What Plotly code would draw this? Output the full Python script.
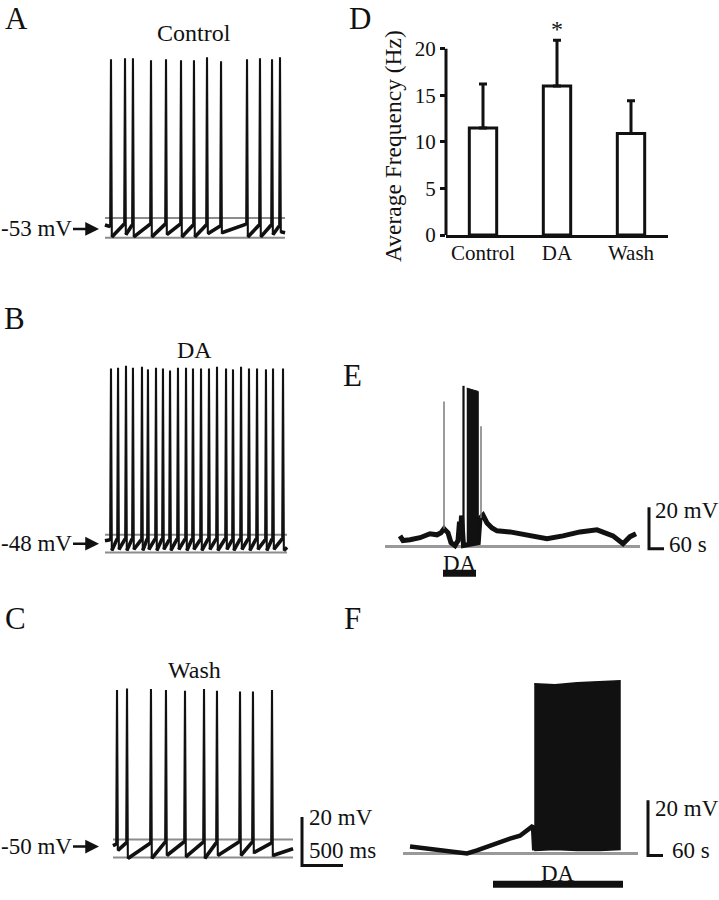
import plotly.graph_objects as go

# ---------------- data ----------------
# Panel A (Control) : spike times (ms), peaks / pre-spike / AHP trough (mV)
A_spike_t = [73, 244, 341, 561, 744, 927, 1085, 1244, 1415, 1732, 1890, 2037, 2134]
A_peak = [17.2, 17.6, 17.6, 16.8, 17.2, 16.8, 16.8, 18.0, 16.4, 17.2, 17.6, 17.2, 18.0]
A_pre = [-52.0, -51.0, -51.4, -51.0, -51.0, -51.0, -51.4, -51.4, -51.8, -51.0, -51.4, -51.4, -51.8]
A_ahp = [-56.3, -55.4, -56.3, -56.3, -55.4, -56.3, -56.3, -55.0, -54.6, -56.3, -56.3, -55.4, -54.2]
A_ends = [(0, -51.4), (2195, -54.6)]
A_gray = [-48.5, -56.7]

# Panel B (DA)
B_spike_t = [73, 159, 256, 341, 451, 524, 622, 707, 793, 890, 988, 1073, 1171, 1268,
             1366, 1476, 1561, 1659, 1756, 1854, 1963, 2049, 2171]
B_peak = [24.9, 25.2, 26.0, 25.2, 25.6, 24.5, 25.2, 24.9, 24.0, 25.2, 25.2, 24.9,
          24.9, 24.9, 25.6, 24.9, 24.5, 25.6, 24.9, 24.9, 24.5, 24.9, 24.9]
B_pre = [-46.0, -45.6, -45.6, -45.6, -46.0, -45.6, -45.6, -45.6, -46.0, -45.6, -45.6, -45.6,
         -46.0, -45.6, -45.6, -45.6, -46.0, -45.6, -45.6, -45.6, -46.0, -45.6, -45.6]
B_ahp = [-50.4, -50.0, -50.4, -50.0, -50.4, -50.0, -50.4, -50.0, -50.4, -50.0, -50.4, -50.0,
         -50.4, -50.0, -50.4, -50.0, -50.4, -50.0, -50.4, -50.0, -50.4, -50.0, -50.4]
B_ends = [(0, -46.4), (2220, -49.2)]
B_gray = [-43.9, -51.3]

# Panel C (Wash)
C_spike_t = [49, 171, 463, 646, 878, 1110, 1268, 1549, 1707, 1939]
C_peak = [14.8, 15.4, 15.2, 14.8, 14.5, 15.2, 14.5, 14.1, 14.1, 14.8]
C_pre = [-49.0, -48.5, -48.6, -48.2, -48.0, -48.2, -48.5, -48.0, -48.2, -48.6]
C_ahp = [-51.6, -54.9, -54.9, -53.7, -54.3, -54.9, -53.7, -53.7, -52.5, -53.7]
C_ends = [(0, -49.6), (2195, -50.9)]
C_gray = [-47.1, -54.5]

rest_labels = ["-53 mV", "-48 mV", "-50 mV"]
titles_abc = ["Control", "DA", "Wash"]

# Panel D (bar chart)
categories = ["Control", "DA", "Wash"]
mean_freq = [11.5, 16.0, 10.9]
sem_freq = [4.7, 4.9, 3.5]
y_ticks = [0, 5, 10, 15, 20]

# Panel E (long recording, s / mV from baseline)
E_t = [0, 12, 40, 80, 120, 148, 164, 176, 192, 204, 220, 232, 238, 242, 246, 250, 254,
       313, 320, 332, 348, 368, 388, 440, 520, 588, 652, 720, 788, 820, 852, 892, 920, 944]
E_v = [5.2, 2.9, 3.3, 4.3, 6.2, 5.7, 6.7, 8.6, 6.7, 1.9, 0.5, 2.9, 12.0, 4.0, 15.0, 3.0, 0.5,
       1.9, 13.8, 15.2, 11.4, 9.0, 7.6, 7.1, 5.2, 3.8, 5.2, 7.1, 8.1, 6.7, 5.2, 1.4, 4.8, 6.2]
E_burst_t = [267, 313]
E_burst_top = [76.5, 74.9]
E_burst_bottom = [0.5, 1.9]
E_black_spike = dict(t=[254], base=[0.5], peak=[77.6])
E_gray_spike = dict(t=[176, 324], base=[8.6, 13.8], peak=[70.0, 58.1])
E_gray_range = [-60, 960]
E_DA = [172, 304]

# Panel F
F_t = [0, 40, 108, 172, 228, 268, 308, 348, 400, 440, 468, 492, 497]
F_v = [2.5, 2.1, 1.4, 0.7, 0.0, 1.1, 2.5, 3.6, 5.4, 6.4, 8.2, 10.0, 1.1]
F_block_t = [497, 580, 668, 760, 840]
F_block_top = [61.4, 61.1, 61.8, 62.1, 62.5]
F_block_bottom = [1.1, 1.4, 1.1, 1.1, 1.4]
F_gray_range = [-28, 912]
F_DA = [332, 852]

SCALE_MV = 20
SCALE_MS = 500
SCALE_S = 60

# ---------------- layout helpers ----------------
W, H = 719, 900
SERIF = "Liberation Serif"
BLACK = "#111111"
GRAY = "#8c8c8c"


def hdom(p0, p1):
    return [p0 / W, p1 / W]


def vdom(top, bot):
    return [1 - bot / H, 1 - top / H]


def hrange(p0, p1, ref_px, ref_val, ppu):
    return [ref_val + (p0 - ref_px) / ppu, ref_val + (p1 - ref_px) / ppu]


def vrange(top, bot, ref_px, ref_val, ppu):
    return [ref_val - (bot - ref_px) / ppu, ref_val + (ref_px - top) / ppu]


def px(x, y):
    return x / W, 1 - y / H


def build_wave(ts, peaks, pres, ahps, ends):
    xs = [ends[0][0]]
    ys = [ends[0][1]]
    for t, pk, pr, ah in zip(ts, peaks, pres, ahps):
        xs += [t - 10, t, t + 10]
        ys += [pr, pk, ah]
    xs.append(ends[1][0])
    ys.append(ends[1][1])
    return xs, ys


def build_band(ts, pres, ahps, ends):
    xs = [ends[0][0]]
    ys = [ends[0][1]]
    for t, pr, ah in zip(ts, pres, ahps):
        xs += [t - 10, None, t + 10]
        ys += [pr, None, ah]
    xs.append(ends[1][0])
    ys.append(ends[1][1])
    return xs, ys


fig = go.Figure()

# ---------------- panels A, B, C ----------------
abc = [
    ("", A_spike_t, A_peak, A_pre, A_ahp, A_ends, A_gray),
    ("2", B_spike_t, B_peak, B_pre, B_ahp, B_ends, B_gray),
    ("3", C_spike_t, C_peak, C_pre, C_ahp, C_ends, C_gray),
]
for sfx, ts, pk, pr, ah, ends, gray in abc:
    xa, ya = "x" + sfx, "y" + sfx
    t0, t1 = ends[0][0], ends[1][0]
    for g in gray:
        fig.add_trace(go.Scatter(x=[t0, t1], y=[g, g], mode="lines",
                                 line=dict(color=GRAY, width=2), xaxis=xa, yaxis=ya,
                                 hoverinfo="skip"))
    xs, ys = build_wave(ts, pk, pr, ah, ends)
    fig.add_trace(go.Scatter(x=xs, y=ys, mode="lines", line=dict(color=BLACK, width=2.1),
                             xaxis=xa, yaxis=ya))
    xs, ys = build_band(ts, pr, ah, ends)
    fig.add_trace(go.Scatter(x=xs, y=ys, mode="lines", line=dict(color=BLACK, width=3.6),
                             xaxis=xa, yaxis=ya))

# scale bar C
sc_t, sc_v = 2305, -57.8
fig.add_trace(go.Scatter(x=[sc_t, sc_t, sc_t + SCALE_MS], y=[sc_v + SCALE_MV, sc_v, sc_v],
                         mode="lines", line=dict(color=BLACK, width=3), xaxis="x3", yaxis="y3"))

# ---------------- panel D ----------------
D_TOP, D_BOT, D_PPU = 49.3, 238.3, 9.45   # px of y=20, y=0 and px per Hz
D_YMAX = 23.0
fig.add_trace(go.Bar(x=categories, y=mean_freq, width=0.37,
                     marker=dict(color="white", line=dict(color=BLACK, width=3)),
                     error_y=dict(type="data", array=sem_freq, arrayminus=[0] * len(sem_freq),
                                  symmetric=False, color=BLACK, thickness=3, width=4),
                     cliponaxis=False, xaxis="x4", yaxis="y4"))

# ---------------- panel E ----------------
fig.add_trace(go.Scatter(x=E_gray_range, y=[0, 0], mode="lines", line=dict(color="#999999", width=3),
                         xaxis="x5", yaxis="y5"))
fig.add_trace(go.Scatter(x=E_t, y=E_v, mode="lines", line=dict(color=BLACK, width=5),
                         xaxis="x5", yaxis="y5"))
fig.add_trace(go.Scatter(x=E_burst_t + E_burst_t[::-1], y=E_burst_top + E_burst_bottom[::-1],
                         fill="toself", fillcolor=BLACK, mode="lines", line=dict(color=BLACK, width=1),
                         xaxis="x5", yaxis="y5"))
xs, ys = [], []
for t, b, p in zip(E_black_spike["t"], E_black_spike["base"], E_black_spike["peak"]):
    xs += [t, t, None]
    ys += [b, p, None]
fig.add_trace(go.Scatter(x=xs, y=ys, mode="lines", line=dict(color=BLACK, width=2.2),
                         xaxis="x5", yaxis="y5"))
xs, ys = [], []
for t, b, p in zip(E_gray_spike["t"], E_gray_spike["base"], E_gray_spike["peak"]):
    xs += [t, t, None]
    ys += [b, p, None]
fig.add_trace(go.Scatter(x=xs, y=ys, mode="lines", line=dict(color="#7a7a7a", width=1.5),
                         xaxis="x5", yaxis="y5"))
e_da_v = -12.9
fig.add_trace(go.Scatter(x=E_DA, y=[e_da_v, e_da_v], mode="lines", line=dict(color=BLACK, width=7),
                         xaxis="x5", yaxis="y5"))
se_t, se_v = 996, -1.0
fig.add_trace(go.Scatter(x=[se_t, se_t, se_t + SCALE_S], y=[se_v + SCALE_MV, se_v, se_v],
                         mode="lines", line=dict(color=BLACK, width=3), xaxis="x5", yaxis="y5"))

# ---------------- panel F ----------------
fig.add_trace(go.Scatter(x=F_gray_range, y=[0, 0], mode="lines", line=dict(color="#999999", width=3),
                         xaxis="x6", yaxis="y6"))
fig.add_trace(go.Scatter(x=F_t, y=F_v, mode="lines", line=dict(color=BLACK, width=4.5),
                         xaxis="x6", yaxis="y6"))
fig.add_trace(go.Scatter(x=F_block_t + F_block_t[::-1], y=F_block_top + F_block_bottom[::-1],
                         fill="toself", fillcolor=BLACK, mode="lines", line=dict(color=BLACK, width=1.5),
                         xaxis="x6", yaxis="y6"))
f_da_v = -11.1
fig.add_trace(go.Scatter(x=F_DA, y=[f_da_v, f_da_v], mode="lines", line=dict(color=BLACK, width=7),
                         xaxis="x6", yaxis="y6"))
sf_t, sf_v = 952, -0.7
fig.add_trace(go.Scatter(x=[sf_t, sf_t, sf_t + SCALE_S], y=[sf_v + SCALE_MV, sf_v, sf_v],
                         mode="lines", line=dict(color=BLACK, width=3), xaxis="x6", yaxis="y6"))

# ---------------- axes ----------------
hidden = dict(visible=False, showgrid=False, zeroline=False)
ms_ppu, mv_ppu = 0.082, 2.45
layout_axes = dict(
    xaxis=dict(domain=hdom(95, 360), range=hrange(95, 360, 105, 0, ms_ppu), anchor="y", **hidden),
    yaxis=dict(domain=vdom(40, 262), range=vrange(40, 262, 232, -53, mv_ppu), anchor="x", **hidden),
    xaxis2=dict(domain=hdom(95, 360), range=hrange(95, 360, 105, 0, ms_ppu), anchor="y2", **hidden),
    yaxis2=dict(domain=vdom(360, 582), range=vrange(360, 582, 552, -48, mv_ppu), anchor="x2", **hidden),
    xaxis3=dict(domain=hdom(95, 360), range=hrange(95, 360, 113, 0, ms_ppu), anchor="y3", **hidden),
    yaxis3=dict(domain=vdom(685, 890), range=vrange(685, 890, 858, -50, mv_ppu), anchor="x3", **hidden),
    xaxis4=dict(domain=hdom(446, 668), range=[-0.5, 2.5], anchor="y4", showline=True, linewidth=3,
                linecolor=BLACK, ticks="", showgrid=False, zeroline=False, ticklabelstandoff=-3,
                tickfont=dict(family=SERIF, size=21, color=BLACK)),
    yaxis4=dict(domain=vdom(D_BOT - D_YMAX * D_PPU, D_BOT), range=[0, D_YMAX], anchor="x4",
                showline=False, ticks="outside", ticklen=5, tickwidth=2.5, tickcolor=BLACK,
                tickvals=y_ticks, showgrid=False, zeroline=False,
                tickfont=dict(family=SERIF, size=21, color=BLACK)),
    xaxis5=dict(domain=hdom(380, 715), range=hrange(380, 715, 400, 0, 0.25), anchor="y5", **hidden),
    yaxis5=dict(domain=vdom(370, 600), range=vrange(370, 600, 554, 0, 2.1), anchor="x5", **hidden),
    xaxis6=dict(domain=hdom(390, 715), range=hrange(390, 715, 410, 0, 0.25), anchor="y6", **hidden),
    yaxis6=dict(domain=vdom(660, 900), range=vrange(660, 900, 865, 0, 2.8), anchor="x6", **hidden),
)

shapes = [dict(type="line", xref="x4 domain", yref="y4", x0=0, x1=0, y0=0, y1=max(y_ticks),
               line=dict(color=BLACK, width=3))]

# ---------------- annotations ----------------
ann = []


def text_px(x, y, s, size, xanchor="center", yanchor="middle", angle=0):
    xp, yp = px(x, y)
    ann.append(dict(x=xp, y=yp, xref="paper", yref="paper", text=s, showarrow=False,
                    xanchor=xanchor, yanchor=yanchor, textangle=angle, borderpad=0,
                    font=dict(family=SERIF, size=size, color=BLACK)))


# panel letters: A and D sit at the top edge, so they are anchored by their top
text_px(16, 0, "A", 31, yanchor="top")
text_px(360, 0, "D", 31, yanchor="top")
for lab, (x, y) in zip("BCEF", [(14, 323), (15, 627), (352, 381), (352, 627)]):
    text_px(x, y, lab, 31)

for t, y in zip(titles_abc, [33, 355, 679]):
    text_px(194, y, t, 24)

for lab, y in zip(rest_labels, [232, 551, 858]):
    xp, yp = px(99, y)
    ann.append(dict(x=xp, y=yp, xref="paper", yref="paper", text=lab, showarrow=True,
                    ax=-63, ay=0, arrowhead=2, arrowsize=1.1, arrowwidth=2.5, arrowcolor=BLACK,
                    standoff=0, font=dict(family=SERIF, size=23, color=BLACK)))

# D
text_px(393, 148, "Average Frequency (Hz)", 23.5, angle=-90)
ann.append(dict(x=categories[1], y=mean_freq[1] + sem_freq[1], xref="x4", yref="y4", text="*",
                showarrow=False, yanchor="bottom", yshift=-4,
                font=dict(family=SERIF, size=24, color=BLACK)))


# scale-bar labels
def data_text(xr, yr, x, y, s, xanchor="left"):
    ann.append(dict(x=x, y=y, xref=xr, yref=yr, text=s, showarrow=False, xanchor=xanchor,
                    yanchor="middle", font=dict(family=SERIF, size=23, color=BLACK)))


data_text("x3", "y3", sc_t + 60, sc_v + SCALE_MV, f"{SCALE_MV} mV")
data_text("x3", "y3", sc_t + 60, sc_v + 6, f"{SCALE_MS} ms")
data_text("x5", "y5", se_t + 16, se_v + 18.6, f"{SCALE_MV} mV")
data_text("x5", "y5", se_t + SCALE_S + 12, se_v + 2, f"{SCALE_S} s")
data_text("x6", "y6", sf_t + 20, sf_v + 16.8, f"{SCALE_MV} mV")
data_text("x6", "y6", sf_t + SCALE_S + 28, sf_v + 1.8, f"{SCALE_S} s")
data_text("x5", "y5", sum(E_DA) / 2, e_da_v + 4.8, "DA", xanchor="center")
data_text("x6", "y6", sum(F_DA) / 2, f_da_v + 3.9, "DA", xanchor="center")

fig.update_layout(
    width=W, height=H, margin=dict(l=0, r=0, t=0, b=0),
    paper_bgcolor="white", plot_bgcolor="rgba(0,0,0,0)", showlegend=False,
    annotations=ann, shapes=shapes, **layout_axes,
)

fig.write_html("out.html", config={"displayModeBar": False},
               post_script="document.body.style.margin='0px';document.body.style.overflow='hidden';")
